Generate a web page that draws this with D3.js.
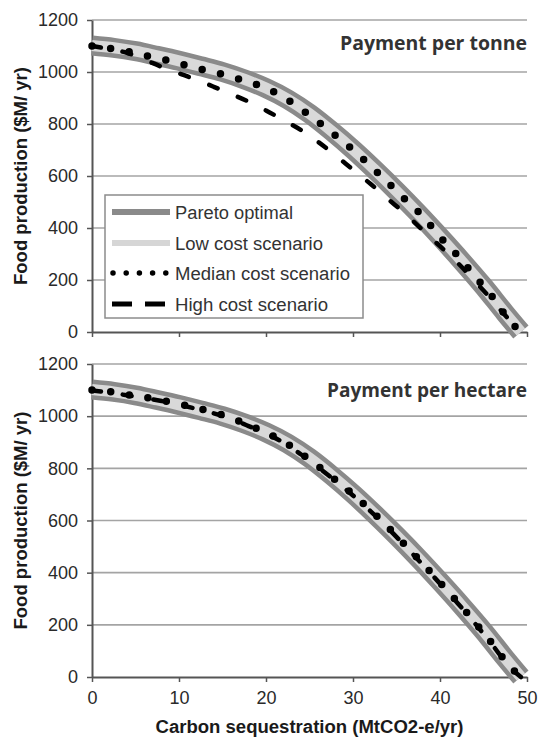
<!DOCTYPE html>
<html><head><meta charset="utf-8">
<script src="https://cdn.jsdelivr.net/npm/d3@7"></script>
<style>body{margin:0;background:#fff}</style>
</head><body><svg id="c" width="539" height="739"></svg>
<script>
// ---------- data ----------
const yTicks = [0, 200, 400, 600, 800, 1000, 1200];
const yTickLabels = ["0", "200", "400", "600", "800", "1000", "1200"];
const xTicks = [0, 10, 20, 30, 40, 50];
const xTickLabels = ["0", "10", "20", "30", "40", "50"];
const panelTitles = ["Payment per tonne", "Payment per hectare"];
const legendLabels = ["Pareto optimal", "Low cost scenario", "Median cost scenario", "High cost scenario"];
const yTitle = "Food production ($M/ yr)";
const xTitle = "Carbon sequestration (MtCO2-e/yr)";

const paretoX = [0, 2.5, 5, 7.5, 10, 12.5, 15, 17.5, 20, 22.5, 25, 27.5, 30, 32.5, 35, 37.5, 40, 42.5, 45, 47.5, 49.3];
const pareto = [1102, 1093, 1080, 1062, 1043, 1022, 1000, 972, 938, 895, 840, 774, 702, 624, 542, 456, 366, 273, 176, 72, 0];
const lowCost = [1102, 1093, 1080, 1062, 1043, 1022, 1000, 972, 938, 895, 840, 774, 702, 624, 542, 456, 366, 273, 176, 72, 0];

const scenX = [0, 2, 4, 6, 8, 10, 12, 14, 16, 18, 20, 22, 24, 26, 28, 30, 32, 34, 36, 38, 40, 42, 44, 46, 48, 49.3];
// Payment per tonne
const medianTonne = [1100, 1091, 1080, 1064, 1050, 1033, 1014, 1000, 981, 962, 938, 903, 858, 808, 755, 700, 639, 575, 510, 446, 366, 295, 215, 136, 44, 0];
const highTonne = [1100, 1088, 1074, 1048, 1020, 995, 970, 943, 915, 886, 852, 815, 777, 731, 679, 624, 570, 512, 455, 392, 330, 267, 196, 122, 45, 0];
// Payment per hectare
const medianHectare = [1100, 1094, 1083, 1073, 1061, 1047, 1031, 1015, 993, 966, 937, 903, 858, 808, 755, 700, 640, 575, 506, 435, 362, 288, 210, 128, 42, 0];
const highHectare = [1098, 1091, 1080, 1070, 1058, 1044, 1028, 1011, 989, 962, 933, 899, 854, 804, 751, 696, 636, 571, 502, 431, 358, 284, 206, 124, 38, 0];

// ---------- drawing ----------
const svg = d3.select("#c");
const x = d3.scaleLinear().domain([0, 50]).range([92, 527]);
const FONT = "'Liberation Sans', Arial, sans-serif";

const panels = [
  {title: panelTitles[0], top: 20, bottom: 332, titleY: 50, labels: false, median: medianTonne, high: highTonne, legend: true, tw: 187},
  {title: panelTitles[1], top: 364, bottom: 677, titleY: 397, labels: true, median: medianHectare, high: highHectare, legend: false, tw: 200}
];

const pts = (xs, ys) => xs.map((v, i) => [v, ys[i]]);

panels.forEach(p => {
  const y = d3.scaleLinear().domain([0, 1200]).range([p.bottom, p.top]);
  const g = svg.append("g");

  // gridlines
  g.selectAll("line.grid").data(yTicks.filter(d => d > 0)).join("line")
    .attr("x1", x(0)).attr("x2", x(50))
    .attr("y1", d => y(d)).attr("y2", d => y(d))
    .attr("stroke", "#a4a4a4").attr("stroke-width", 1.6);

  // y axis
  const ya = g.append("g").attr("transform", `translate(${x(0)},0)`)
    .call(d3.axisLeft(y).tickValues(yTicks).tickFormat((d, i) => yTickLabels[i])
      .tickSize(5).tickSizeOuter(0).tickPadding(9));
  ya.select(".domain").attr("stroke", "#555").attr("stroke-width", 2);
  ya.selectAll(".tick line").attr("stroke", "#555").attr("stroke-width", 1.5);
  ya.selectAll(".tick text").attr("font-family", FONT)
    .attr("font-size", 18).attr("fill", "#2a2a2a");

  // x axis
  const xa = g.append("g").attr("transform", `translate(0,${p.bottom})`)
    .call(d3.axisBottom(x).tickValues(xTicks).tickFormat((d, i) => p.labels ? xTickLabels[i] : "")
      .tickSize(5).tickSizeOuter(0).tickPadding(9));
  xa.select(".domain").attr("stroke", "#555").attr("stroke-width", 2);
  xa.selectAll(".tick line").attr("stroke", "#555").attr("stroke-width", 1.5);
  xa.selectAll(".tick text").attr("font-family", FONT)
    .attr("font-size", 18).attr("fill", "#2a2a2a");

  const line = d3.line().x(d => x(d[0])).y(d => y(d[1])).curve(d3.curveMonotoneX);

  // Pareto optimal band
  g.append("path").attr("d", line(pts(paretoX, pareto)))
    .attr("fill", "none").attr("stroke", "#8a8a8a").attr("stroke-width", 20);
  // Low cost scenario
  g.append("path").attr("d", line(pts(paretoX, lowCost)))
    .attr("fill", "none").attr("stroke", "#d9d9d9").attr("stroke-width", 11);
  // High cost scenario
  g.append("path").attr("d", line(pts(scenX, p.high)))
    .attr("fill", "none").attr("stroke", "#000").attr("stroke-width", 4.5)
    .attr("stroke-linecap", "round").attr("stroke-dasharray", "9 22");
  // Median cost scenario
  g.append("path").attr("d", line(pts(scenX, p.median)))
    .attr("fill", "none").attr("stroke", "#000").attr("stroke-width", 7.5)
    .attr("stroke-linecap", "round").attr("stroke-dasharray", "0 18.8");

  // panel title
  g.append("text").attr("x", 527).attr("y", p.titleY).attr("text-anchor", "end")
    .attr("font-family", "'Open Sans', sans-serif").attr("font-weight", "bold")
    .attr("font-size", 19).attr("fill", "#333")
    .attr("textLength", p.tw).attr("lengthAdjust", "spacingAndGlyphs")
    .text(p.title);

  // y title
  const cy = (p.top + p.bottom) / 2;
  g.append("text").attr("transform", `translate(27,${cy}) rotate(-90)`)
    .attr("text-anchor", "middle")
    .attr("font-family", FONT).attr("font-weight", "bold")
    .attr("font-size", 18).attr("fill", "#1a1a1a")
    .attr("textLength", 218).attr("lengthAdjust", "spacingAndGlyphs")
    .text(yTitle);

  if (p.legend) {
    const lg = g.append("g");
    lg.append("rect").attr("x", 105).attr("y", 195).attr("width", 258).attr("height", 123)
      .attr("fill", "#fff").attr("stroke", "#8c8c8c").attr("stroke-width", 1.5);
    const rowsY = [212, 243, 273, 304];
    const widths = [118, 148, 175, 153];
    const styles = [
      {stroke: "#8a8a8a", w: 6, dash: null, cap: "butt"},
      {stroke: "#d6d6d6", w: 6, dash: null, cap: "butt"},
      {stroke: "#000", w: 5.5, dash: "0 13.2", cap: "round"},
      {stroke: "#000", w: 5, dash: "20 13", cap: "butt"}
    ];
    legendLabels.forEach((lab, i) => {
      const s = styles[i];
      const x1 = i === 2 ? 113 : 112, x2 = i === 2 ? 166 : (i === 3 ? 165 : 170);
      const ln = lg.append("line").attr("x1", x1).attr("x2", x2).attr("y1", rowsY[i]).attr("y2", rowsY[i])
        .attr("stroke", s.stroke).attr("stroke-width", s.w).attr("stroke-linecap", s.cap);
      if (s.dash) ln.attr("stroke-dasharray", s.dash);
      lg.append("text").attr("x", 175).attr("y", rowsY[i] + 6.5)
        .attr("font-family", FONT).attr("font-size", 18).attr("fill", "#333")
        .attr("textLength", widths[i]).attr("lengthAdjust", "spacingAndGlyphs")
        .text(lab);
    });
  }
});

// x axis title
svg.append("text").attr("x", (x(0) + x(50)) / 2).attr("y", 733).attr("text-anchor", "middle")
  .attr("font-family", FONT).attr("font-weight", "bold")
  .attr("font-size", 18).attr("fill", "#1a1a1a")
  .attr("textLength", 308).attr("lengthAdjust", "spacingAndGlyphs")
  .text(xTitle);
</script>
</body></html>
